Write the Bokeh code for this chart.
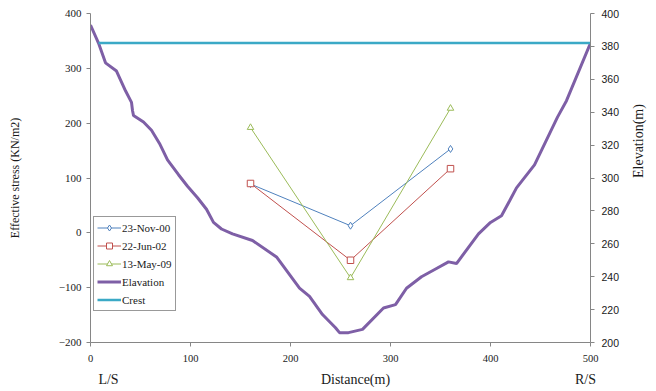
import math
from bokeh.plotting import figure
from bokeh.models import Range1d, LinearAxis, FixedTicker, Legend, LegendItem
from bokeh.embed import file_html
from bokeh.resources import INLINE

# ---------------- data ----------------
stress_distance = [160, 260, 360]
stress_nov00 = [89, 13, 153]
stress_jun02 = [90, -50, 117]
stress_may09 = [192, -82, 227]

elev_distance = [0, 8, 15, 26, 35, 41, 42, 43, 53, 61, 69, 77, 88, 97, 107, 116, 123, 131,
                 142, 162, 186, 209, 219, 232, 245, 249, 258, 272, 293, 305, 316, 331, 346,
                 358, 366, 388, 400, 411, 419, 426, 444, 467, 476, 500]
elevation = [393, 382, 370, 365, 353, 346, 341, 338, 334, 329, 321, 311, 302, 295, 288, 281,
             273, 269, 266, 262, 252, 233, 228, 217, 209, 206, 206, 208, 221, 223, 233, 240,
             245, 249, 248, 266, 273, 277, 286, 294, 308, 337, 347, 382]

crest_distance = [8, 500]
crest_elevation = [382, 382]

x_ticks = [0, 100, 200, 300, 400, 500]
left_ticks = [-200, -100, 0, 100, 200, 300, 400]
right_ticks = [200, 220, 240, 260, 280, 300, 320, 340, 360, 380, 400]

# labels that sit under the distance axis: L/S bank, axis title, R/S bank
bank_label_pos = [18, 265, 495]
bank_label_text = ["L/S", "Distance(m)", "R/S"]

# ---------------- layout ----------------
W, H = 656, 391
FL, FR, FT, FB = 90, 593, 13, 342  # frame edges in pixels

p = figure(width=W, height=H, x_range=Range1d(0, 500), y_range=Range1d(-200, 400),
           output_backend="svg", toolbar_location=None,
           min_border_left=FL, min_border_right=W - FR, min_border_top=FT,
           min_border_bottom=H - FB)
p.extra_y_ranges = {"elev": Range1d(200, 400)}
p.xgrid.visible = False
p.ygrid.visible = False
p.outline_line_color = None
p.background_fill_color = "white"
p.border_fill_color = "white"

AX = "#868686"
SERIF = "Liberation Serif"
SANS = "Liberation Sans"
TXT = "#1a1a1a"


def style_axis(ax, ticks, font, size, standoff):
    ax.ticker = FixedTicker(ticks=ticks)
    ax.axis_line_color = AX
    ax.major_tick_line_color = AX
    ax.major_tick_in = 0
    ax.major_tick_out = 4
    ax.minor_tick_line_color = None
    ax.major_label_text_font = font
    ax.major_label_text_font_size = size
    ax.major_label_text_color = TXT
    ax.major_label_standoff = standoff
    ax.axis_label_text_font = SERIF
    ax.axis_label_text_font_style = "normal"
    ax.axis_label_text_color = TXT


# bottom distance axis
style_axis(p.xaxis[0], x_ticks, SERIF, "10.5px", 8)

# left stress axis
style_axis(p.yaxis[0], left_ticks, SERIF, "11px", 5)
p.yaxis[0].axis_label = "Effective stress (KN/m2)"
p.yaxis[0].axis_label_text_font_size = "12px"
p.yaxis[0].axis_label_standoff = 34

# right elevation axis
right_axis = LinearAxis(y_range_name="elev")
style_axis(right_axis, right_ticks, SANS, "10.5px", 7)
right_axis.axis_label = "Elevation(m)"
right_axis.axis_label_text_font_size = "14px"
right_axis.axis_label_standoff = 16
if "axis_label_orientation" in right_axis.properties():
    right_axis.axis_label_orientation = math.pi / 2
p.add_layout(right_axis, "right")

# second row under the distance axis: bank labels and the title
bank_axis = LinearAxis(ticker=FixedTicker(ticks=bank_label_pos),
                       major_label_overrides={v: t for v, t in zip(bank_label_pos, bank_label_text)})
bank_axis.axis_line_color = None
bank_axis.major_tick_line_color = None
bank_axis.major_tick_in = 0
bank_axis.major_tick_out = 0
bank_axis.minor_tick_line_color = None
bank_axis.major_label_text_font = SERIF
bank_axis.major_label_text_font_size = "14px"
bank_axis.major_label_text_color = TXT
bank_axis.major_label_standoff = 7
p.add_layout(bank_axis, "below")

# ---------------- glyphs ----------------
BLUE, RED, GREEN = "#4F81BD", "#C0504D", "#9BBB59"
PURPLE, CYAN = "#7E5FA6", "#3BA9C6"

elev_r = p.line(elev_distance, elevation, y_range_name="elev", line_color=PURPLE, line_width=3)
crest_r = p.line(crest_distance, crest_elevation, y_range_name="elev", line_color=CYAN, line_width=2.5)

l1 = p.line(stress_distance, stress_nov00, line_color=BLUE, line_width=1)
m1 = p.scatter(stress_distance, stress_nov00, marker="diamond", size=7, line_color=BLUE,
               fill_color="white", line_width=1)
l2 = p.line(stress_distance, stress_jun02, line_color=RED, line_width=1)
m2 = p.scatter(stress_distance, stress_jun02, marker="square", size=6.5, line_color=RED,
               fill_color="white", line_width=1)
l3 = p.line(stress_distance, stress_may09, line_color=GREEN, line_width=1)
m3 = p.scatter(stress_distance, stress_may09, marker="triangle", size=6.5, line_color=GREEN,
               fill_color="white", line_width=1)

legend = Legend(items=[
    LegendItem(label="23-Nov-00", renderers=[l1, m1]),
    LegendItem(label="22-Jun-02", renderers=[l2, m2]),
    LegendItem(label="13-May-09", renderers=[l3, m3]),
    LegendItem(label="Elavation", renderers=[elev_r]),
    LegendItem(label="Crest", renderers=[crest_r]),
], location=(3, 31))
legend.label_text_font = SERIF
legend.label_text_font_size = "11px"
legend.label_text_color = TXT
legend.glyph_width = 24
legend.glyph_height = 15
legend.label_height = 15
legend.label_standoff = 1
legend.spacing = 3
legend.padding = 3
legend.margin = 0
legend.border_line_color = "#333333"
legend.border_line_width = 1
legend.background_fill_color = "white"
legend.background_fill_alpha = 1
p.add_layout(legend, "center")

open("out.html", "w").write(file_html(p, INLINE))
